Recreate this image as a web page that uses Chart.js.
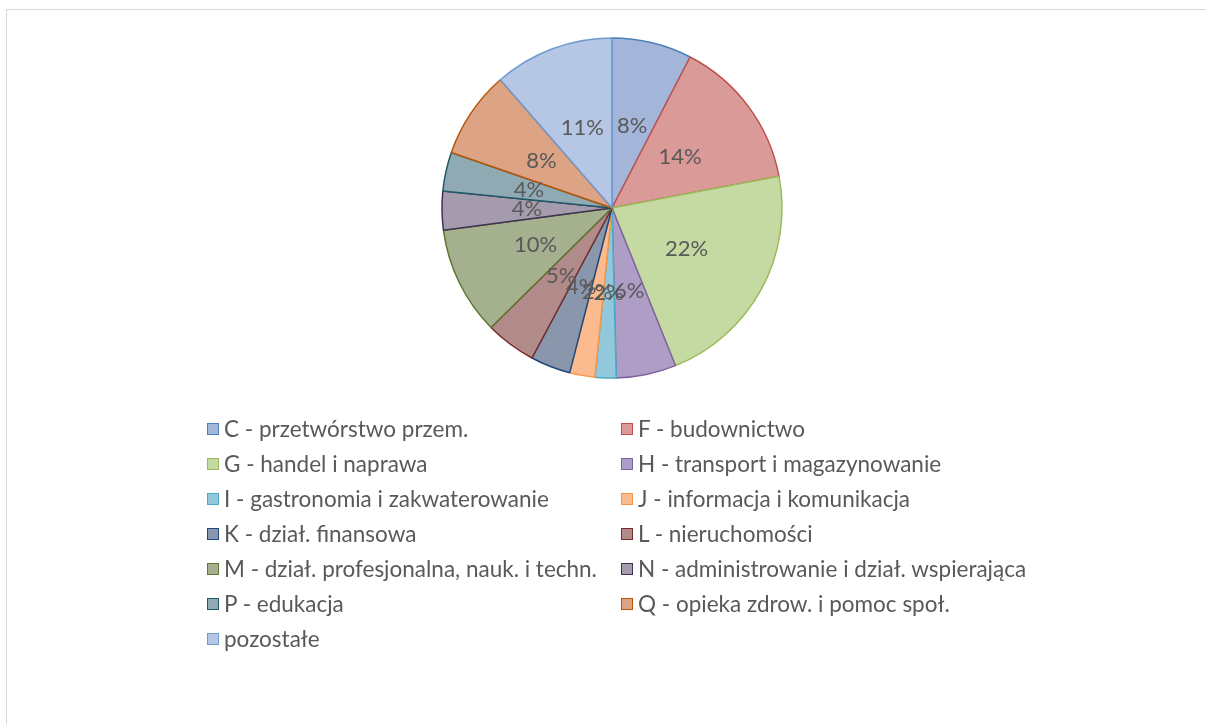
<!DOCTYPE html>
<html>
<head>
<meta charset="utf-8">
<script src="https://cdn.jsdelivr.net/npm/chart.js@4/dist/chart.umd.min.js"></script>
<style>
  html, body { margin: 0; background: #fff; overflow: hidden; font-family: Lato, "Open Sans", sans-serif; }
  #topLine { position: absolute; left: 6px; top: 9px; width: 1200px; height: 1px; background: #d9d9d9; }
  #leftLine { position: absolute; left: 6px; top: 9px; width: 1px; height: 715px; background: #d9d9d9; }
  #wrap { position: absolute; left: 0; top: 0; width: 1206px; height: 724px; }
  #legend { position: absolute; left: 207px; top: 411px; display: grid; grid-template-columns: 414px 420px; }
  .item { height: 35px; display: flex; align-items: center; font-size: 22.5px; color: #595959; white-space: nowrap; }
  .box { width: 10px; height: 10px; margin-right: 5px; border: 1.5px solid; }
</style>
</head>
<body>
<div id="topLine"></div>
<div id="leftLine"></div>
<div id="wrap"><canvas id="pie" width="1206" height="724"></canvas></div>
<div id="legend"></div>
<script>
const categories = [
    'C - przetwórstwo przem.',
    'F - budownictwo',
    'G - handel i naprawa',
    'H - transport i magazynowanie',
    'I - gastronomia i zakwaterowanie',
    'J - informacja i komunikacja',
    'K - dział. finansowa',
    'L - nieruchomości',
    'M - dział. profesjonalna, nauk. i techn.',
    'N - administrowanie i dział. wspierająca',
    'P - edukacja',
    'Q - opieka zdrow. i pomoc społ.',
    'pozostałe'
];
const shares = [7.6, 14.4, 21.9, 5.7, 2.0, 2.4, 3.8, 4.8, 10.3, 3.7, 3.7, 8.3, 11.4];
const fillColors = ['#a3b6da', '#d99a98', '#c5d9a3', '#ae9dc4', '#92c8db', '#fbbb8f', '#8a96ab',
    '#b08b89', '#a5b08f', '#a49cad', '#90aab3', '#dca384', '#b5c7e4'];
const lineColors = ['#4f81bd', '#c0504d', '#9bbb59', '#8064a2', '#4bacc6', '#f79646', '#1f497d',
    '#772c2a', '#5f7530', '#3f3151', '#215968', '#b65708', '#6f9ad0'];

// percent labels in the middle of each slice
const sliceLabels = {
    id: 'sliceLabels',
    afterDatasetsDraw(chart) {
        const ctx = chart.ctx;
        const meta = chart.getDatasetMeta(0);
        const total = shares.reduce((a, b) => a + b, 0);
        ctx.save();
        ctx.font = '22px Lato';
        ctx.fillStyle = '#595959';
        ctx.textAlign = 'center';
        ctx.textBaseline = 'middle';
        meta.data.forEach((arc, i) => {
            const p = arc.getCenterPoint();
            ctx.fillText(Math.round(shares[i] / total * 100) + '%', p.x, p.y);
        });
        ctx.restore();
    }
};

const chart = new Chart(document.getElementById('pie'), {
    type: 'pie',
    data: {
        labels: categories,
        datasets: [{
            data: shares,
            backgroundColor: fillColors,
            borderColor: lineColors,
            borderWidth: 1.5,
            radius: 170
        }]
    },
    options: {
        responsive: false,
        animation: false,
        layout: { padding: { left: 18, right: 0, top: 0, bottom: 308 } },
        plugins: {
            legend: { display: false },
            tooltip: { enabled: false }
        }
    },
    plugins: [sliceLabels]
});

let legendHtml = '';
categories.forEach((c, i) => {
    legendHtml += `<div class="item"><span class="box" style="background:${fillColors[i]};border-color:${lineColors[i]}"></span>${c}</div>`;
});
document.getElementById('legend').innerHTML = legendHtml;
</script>
</body>
</html>
